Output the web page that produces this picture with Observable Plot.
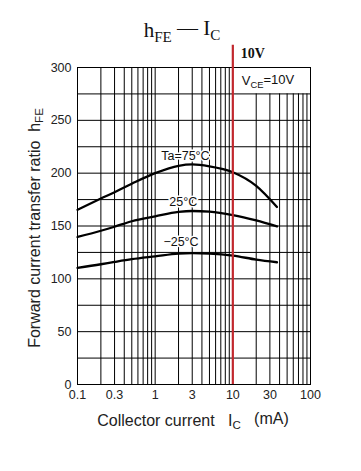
<!DOCTYPE html>
<html>
<head>
<meta charset="utf-8">
<script src="https://cdn.jsdelivr.net/npm/d3@7"></script>
<script src="https://cdn.jsdelivr.net/npm/@observablehq/plot@0.6"></script>
<style>
  body { margin: 0; background: #fff; }
  #chart svg { display: block; }
</style>
</head>
<body>
<div id="chart"></div>
<script>
// ---- data ----
const currents   = [0.1, 0.2, 0.3, 0.5, 1, 2, 3, 5, 10, 20, 37];          // Ic (mA)
const hfe75      = [165.4, 176, 182, 190, 200, 207, 208.3, 206.5, 200.9, 188, 168];
const hfe25      = [139.6, 145.5, 149.3, 154.5, 159.1, 163.3, 164.2, 163.6, 160.4, 155.3, 149.6];
const hfeMinus25 = [110.4, 113.8, 116, 118.6, 121.3, 123.9, 124.3, 123.9, 122, 118.2, 115.7];

const seriesNames  = ["Ta=75°C", "25°C", "−25°C"];
const labelX       = [2.45, 2.3, 2.15];
const labelY       = [216, 172.5, 135];

const xTicks = [0.1, 0.3, 1, 3, 10, 30, 100];
const yTicks = [0, 50, 100, 150, 200, 250, 300];
const gridXFull  = [0.2, 0.3, 0.4, 0.5, 0.6, 0.7, 0.8, 0.9, 1, 2, 3, 4, 5, 6, 7, 8, 9];
const gridXShort = [20, 30, 40, 50, 60, 70, 80, 90];
const gridY = [25, 50, 75, 100, 125, 150, 175, 200, 225, 250, 275];
const vceLine = [10];

// ---- build table ----
const rows = [];
[hfe75, hfe25, hfeMinus25].forEach((vals, i) => {
  vals.forEach((v, j) => rows.push({series: seriesNames[i], ic: currents[j], hfe: v}));
});
const labels = seriesNames.map((s, i) => ({s, x: labelX[i], y: labelY[i]}));

const sans = "'Liberation Sans', Arial, Helvetica, sans-serif";
const serif = "'Liberation Serif', 'Times New Roman', serif";

const chart = Plot.plot({
  width: 361,
  height: 471,
  marginLeft: 77,
  marginRight: 51,
  marginTop: 67,
  marginBottom: 87,
  style: {fontFamily: sans, background: "#fff", color: "#222"},
  x: {type: "log", domain: [0.1, 100]},
  y: {domain: [0, 300]},
  marks: [
    Plot.ruleX(gridXFull, {x: d => d, y1: 0, y2: 300, stroke: "#000", strokeWidth: 1}),
    Plot.ruleX(gridXShort, {x: d => d, y1: 0, y2: 275, stroke: "#000", strokeWidth: 1}),
    Plot.ruleY(gridY, {y: d => d, stroke: "#000", strokeWidth: 1}),
    Plot.frame({stroke: "#000", strokeWidth: 1}),
    Plot.line(rows, {x: "ic", y: "hfe", z: "series", curve: "monotone-x", stroke: "#000", strokeWidth: 2.3}),
    Plot.ruleX(vceLine, {x: d => d, y1: 0, y2: 321, stroke: "#c1272d", strokeWidth: 2.2}),
    Plot.text(labels, {x: "x", y: "y", text: "s", fontSize: 12.5, fill: "#111", fontFamily: sans, stroke: "#fff", strokeWidth: 3}),
    Plot.axisY({ticks: yTicks, tickSize: 0, tickPadding: 6, fontSize: 12.5, label: null, fill: "#222"}),
    Plot.axisX({ticks: xTicks, tickSize: 0, tickPadding: 6, fontSize: 12.5, label: null, fill: "#222", tickFormat: d => String(d)}),
    Plot.text(vceLine, {x: d => d, y: 313, text: d => `${d}V`, textAnchor: "start", dx: 8, fontSize: 14, fontWeight: "bold", fontFamily: serif, fill: "#111"}),
    Plot.text(vceLine, {x: d => d, y: 287, text: d => `VCE=${d}V`, textAnchor: "start", dx: 9, fontSize: 13, fill: "#111"}),
    Plot.text(["hFE — IC"], {frameAnchor: "top", textAnchor: "middle", lineAnchor: "middle", dx: -12, dy: -37, fontSize: 21, fontFamily: serif, fill: "#111"}),
    Plot.text(["Collector current IC (mA)"], {frameAnchor: "bottom", textAnchor: "middle", lineAnchor: "middle", dx: -1, dy: 36, fontSize: 16, fill: "#222"}),
    Plot.text(["Forward current transfer ratio hFE"], {frameAnchor: "left", textAnchor: "middle", lineAnchor: "middle", dx: -43, dy: 2, rotate: -90, fontSize: 16, fill: "#222"})
  ]
});

// rich text with subscripts
const NB = "\u00a0";
const S = t => `<tspan font-size="0.72em" dy="0.32em">${t}</tspan>`;
const R = t => `<tspan dy="-0.32em">${t}</tspan>`;
const rich = {
  "hFE — IC": `h${S("FE")}${R(" — I")}${S("C")}`,
  "VCE=10V": `V${S("CE")}${R("=10V")}`,
  "Collector current IC (mA)": `Collector current${NB}${NB}${NB}I${S("C")}${R(`${NB}${NB}${NB}(mA)`)}`,
  "Forward current transfer ratio hFE": `Forward current transfer ratio${NB}${NB}h${S("FE")}`
};
d3.select(chart).selectAll("text").each(function() {
  const t = this.textContent;
  if (rich[t]) this.innerHTML = rich[t];
});

document.getElementById("chart").appendChild(chart);
</script>
</body>
</html>
